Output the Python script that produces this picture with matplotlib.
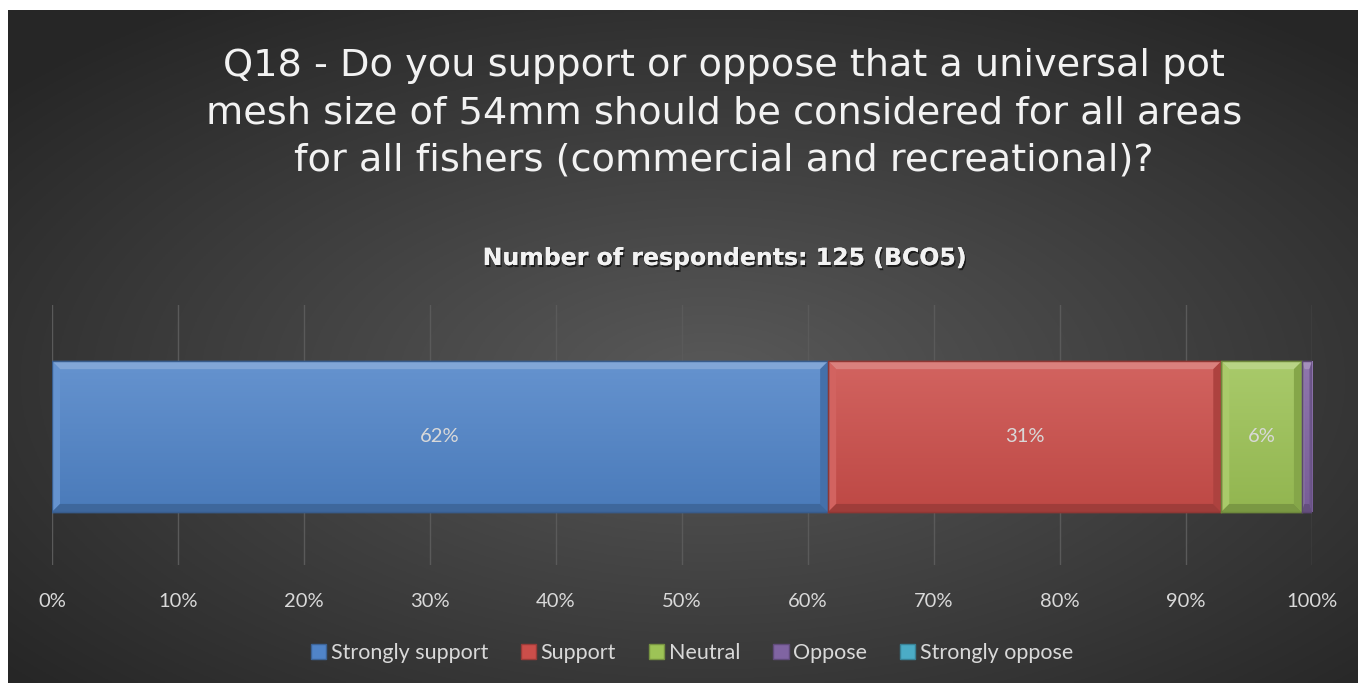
import numpy as np
import matplotlib
matplotlib.use("Agg")
import matplotlib.pyplot as plt
import matplotlib.patheffects as pe
import matplotlib.colors as mcolors
from matplotlib.patches import Patch

categories = ["Strongly support", "Support", "Neutral", "Oppose", "Strongly oppose"]
counts = [77, 39, 8, 1, 0]
total = 125
colors = ["#5084C8", "#CC4E4A", "#9DC356", "#8064A2", "#4BACC6"]
tick_labels = ["0%", "10%", "20%", "30%", "40%", "50%", "60%", "70%", "80%", "90%", "100%"]
title = ("Q18 - Do you support or oppose that a universal pot\n"
         "mesh size of 54mm should be considered for all areas\n"
         "for all fishers (commercial and recreational)?")
subtitle = "Number of respondents: 125 (BCO5)"

plt.rcParams['font.family'] = ['Lato', 'DejaVu Sans']
W, H = 1358, 683
fig = plt.figure(figsize=(W / 100, H / 100), dpi=100)
fig.patch.set_facecolor("white")

# dark radial-gradient background
x0 = 8 / W
bg = fig.add_axes([x0, 0, 1 - x0, 1 - 10 / H])
bg.set_axis_off()
yy, xx = np.mgrid[0:1:300j, 0:1:600j]
r = np.sqrt(((xx - 0.52) / 0.75) ** 2 + ((yy - 0.45) / 0.75) ** 2)
val = np.clip(0.35 - 0.22 * r, 0.15, 0.36)
bg.imshow(np.dstack([val, val, val]), aspect="auto", extent=[0, 1, 0, 1], origin="lower")
bg.set_xlim(0, 1); bg.set_ylim(0, 1)

# title & subtitle
fig.text(724 / W, 1 - 113 / H, title, ha="center", va="center", fontsize=27.5,
         family=["DejaVu Sans"], color="#F2F2F2", linespacing=1.41)
fig.text(725 / W, 1 - 258 / H, subtitle, ha="center", va="center", fontsize=17,
         fontweight="bold", family=["DejaVu Sans"], color="#F2F2F2",
         path_effects=[pe.withSimplePatchShadow(offset=(1, -1.5), shadow_rgbFace="black", alpha=0.6), pe.Normal()])

# main axes
left, right = 52 / W, 1312 / W
top, bottom = 1 - 305 / H, 1 - 565 / H
ax = fig.add_axes([left, bottom, right - left, top - bottom])
ax.patch.set_alpha(0)
ax.set_xlim(0, 1)
ax.set_ylim(-0.5, 0.5)

shares = [c / total for c in counts]
starts = np.concatenate([[0], np.cumsum(shares)[:-1]])
bar_h = 0.58
bar_y = -0.006
grad = np.linspace(1, 0, 64).reshape(-1, 1)
for s, w, c in zip(starts, shares, colors):
    if w <= 0:
        continue
    rgb = np.array(mcolors.to_rgb(c))
    bars = ax.barh(bar_y, w, left=s, height=bar_h, color=c,
                   edgecolor=rgb * 0.75, linewidth=1.0, zorder=3)
    yb, yt = bar_y - bar_h / 2, bar_y + bar_h / 2
    topc = np.clip(rgb + (1 - rgb) * 0.12, 0, 1)
    botc = rgb * 0.93
    g = grad[..., None] * topc + (1 - grad[..., None]) * botc
    im = ax.imshow(g, extent=[s, s + w, yb, yt], aspect="auto", zorder=3.5, origin="upper")
    im.set_clip_path(bars.patches[0])
    bev_x = min(8 / 1260, w * 0.25)
    bev_y = 8 / 260
    light = np.clip(rgb + (1 - rgb) * 0.28, 0, 1)
    ax.fill([s, s + w, s + w - bev_x, s + bev_x], [yt, yt, yt - bev_y, yt - bev_y], color=light, zorder=4, lw=0)
    ax.fill([s, s + bev_x, s + bev_x, s], [yb, yb + bev_y, yt - bev_y, yt],
            color=np.clip(rgb + (1 - rgb) * 0.12, 0, 1), zorder=4, lw=0)
    ax.fill([s, s + w, s + w - bev_x, s + bev_x], [yb, yb, yb + bev_y, yb + bev_y], color=rgb * 0.78, zorder=4, lw=0)
    ax.fill([s + w, s + w - bev_x, s + w - bev_x, s + w], [yb, yb + bev_y, yt - bev_y, yt], color=rgb * 0.85, zorder=4, lw=0)
    ax.plot([s, s + w, s + w, s, s], [yb, yb, yt, yt, yb], color=rgb * 0.7, lw=1, zorder=4.5)
    if w >= 0.05:
        ax.text(s + w / 2, bar_y, f"{round(w * 100)}%", ha="center", va="center",
                fontsize=14.5, color="#D9D9D9", zorder=5)

ax.set_xticks(np.linspace(0, 1, len(tick_labels)))
ax.set_xticklabels(tick_labels, fontsize=14.5, color="#D9D9D9")
ax.tick_params(axis="x", length=0, pad=20)
ax.set_yticks([])
ax.grid(axis="x", color="#5A5A5A", linewidth=1, zorder=0)
for sp in ax.spines.values():
    sp.set_visible(False)

handles = [Patch(facecolor=c, edgecolor=np.array(mcolors.to_rgb(c)) * 0.75) for c in colors]
fig.legend(handles, categories, loc="center", bbox_to_anchor=(692 / W, 1 - 653 / H), ncol=5,
           frameon=False, fontsize=15.5, labelcolor="#D9D9D9", handlelength=0.7, handleheight=0.7,
           handletextpad=0.2, columnspacing=1.55)

fig.savefig("out.png", dpi=100, facecolor=fig.get_facecolor())
